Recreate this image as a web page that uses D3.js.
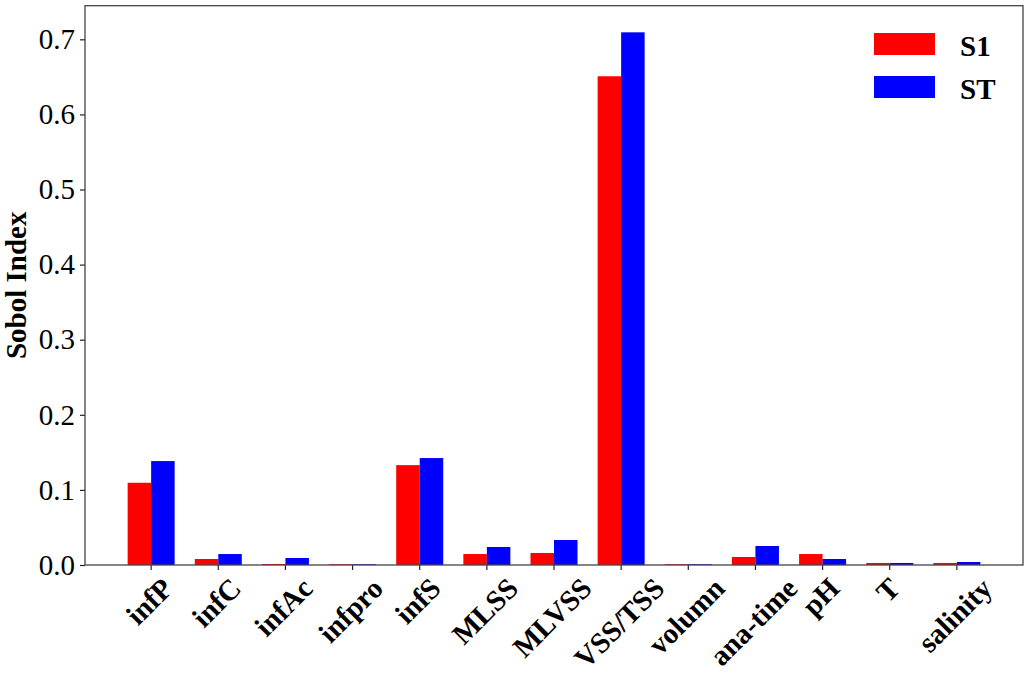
<!DOCTYPE html>
<meta charset="utf-8">
<html>
<head>
    <script type="text/javascript" src="https://cdn.jsdelivr.net/npm/d3@7"></script>
    <style type="text/css">
        html, body { padding: 0px; margin: 0px; background: #fff; }
        text { font-family: "Liberation Serif", "Times New Roman", serif; fill: #000; }
    </style>
</head>
<body>
    <svg id="svg"></svg>
    <script type="text/javascript">
        // categories and Sobol indices
        var categories = ["infP", "infC", "infAc", "infpro", "infS", "MLSS", "MLVSS", "VSS/TSS", "volumn", "ana-time", "pH", "T", "salinity"]
        var s1 = [0.1095, 0.0080, 0.0013, 0.0010, 0.1330, 0.0146, 0.0160, 0.6508, 0.0010, 0.0107, 0.0146, 0.0027, 0.0027]
        var st = [0.1384, 0.0146, 0.0093, 0.0010, 0.1424, 0.0240, 0.0333, 0.7093, 0.0010, 0.0253, 0.0080, 0.0027, 0.0040]
        var yTicks = [0, 0.1, 0.2, 0.3, 0.4, 0.5, 0.6, 0.7]
        var seriesNames = ["S1", "ST"]
        var seriesColors = ["#ff0000", "#0000ff"]

        var width = 1030, height = 680
        var mLeft = 85, mRight = 1023, mTop = 5.7, mBottom = 565
        var barW = 0.35

        var svg = d3.select('svg').attr('width', width).attr('height', height)

        var x = d3.scaleLinear().domain([-0.985, categories.length - 1 + 0.985]).range([mLeft, mRight])
        var ymax = d3.max(st) * 1.05
        var y = d3.scaleLinear().domain([0, ymax]).range([mBottom, mTop])

        // bars
        var series = [s1, st]
        series.forEach(function (vals, k) {
            svg.append('g').selectAll('rect')
                .data(vals)
                .enter().append('rect')
                .attr('x', function (d, i) { return x(i + (k === 0 ? -barW : 0)) })
                .attr('width', x(barW) - x(0))
                .attr('y', function (d) { return y(d) })
                .attr('height', function (d) { return y(0) - y(d) })
                .attr('fill', seriesColors[k])
        })

        // y axis
        var yAxis = d3.axisLeft(y).tickValues(yTicks).tickFormat(d3.format('.1f')).tickSize(5).tickPadding(5)
        var gy = svg.append('g').attr('transform', 'translate(' + mLeft + ',0)').call(yAxis)
        gy.select('.domain').remove()
        gy.selectAll('line').attr('stroke', '#222').attr('stroke-width', 1.2)
        gy.selectAll('text').style('font-size', '29px').style('font-family', '"Liberation Serif", serif')

        // x ticks
        var gx = svg.append('g')
        gx.selectAll('line').data(categories).enter().append('line')
            .attr('x1', function (d, i) { return x(i) }).attr('x2', function (d, i) { return x(i) })
            .attr('y1', mBottom).attr('y2', mBottom + 5)
            .attr('stroke', '#222').attr('stroke-width', 1.2)
        var labels = gx.selectAll('text').data(categories).enter().append('text')
            .text(function (d) { return d })
            .attr('text-anchor', 'middle')
            .attr('dominant-baseline', 'central')
            .style('font-size', '29px').style('font-weight', 'bold')
        labels.each(function (d, i) {
            var L = this.getComputedTextLength()
            var h = 20
            var half = (L + h) / Math.SQRT2 / 2
            var cx = x(i) - 2, cy = mBottom + 11 + half
            d3.select(this).attr('transform', 'translate(' + cx + ',' + cy + ') rotate(-45)')
        })

        // frame
        svg.append('rect').attr('x', mLeft).attr('y', mTop).attr('width', mRight - mLeft).attr('height', mBottom - mTop)
            .attr('fill', 'none').attr('stroke', '#444').attr('stroke-width', 1.3)

        // y label
        svg.append('text').text('Sobol Index')
            .attr('transform', 'translate(26,' + ((mTop + mBottom) / 2) + ') rotate(-90)')
            .attr('text-anchor', 'middle')
            .style('font-size', '29px').style('font-weight', 'bold')

        // legend
        var lg = svg.append('g').selectAll('g').data(seriesNames).enter().append('g')
            .attr('transform', function (d, i) { return 'translate(874,' + (33 + i * 43) + ')' })
        lg.append('rect').attr('width', 61).attr('height', 22).attr('fill', function (d, i) { return seriesColors[i] })
        lg.append('text').text(function (d) { return d }).attr('x', 86).attr('y', 23)
            .style('font-size', '29px').style('font-weight', 'bold')
    </script>
</body>
</html>
